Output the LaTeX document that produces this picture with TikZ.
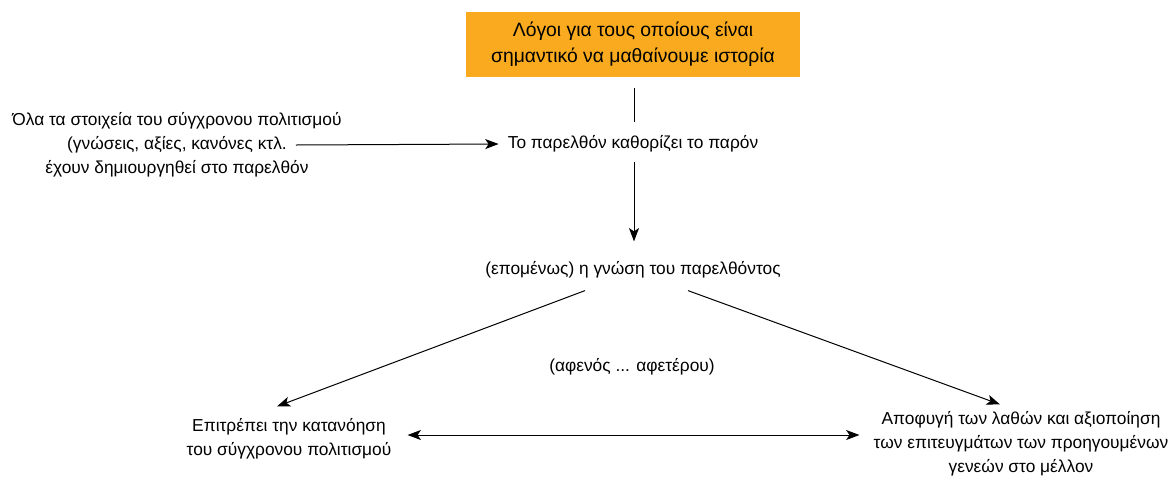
\documentclass[tikz,border=0pt]{standalone}
\usepackage{fontspec}
\setmainfont{Liberation Sans}
\usepackage{tikz}
\usetikzlibrary{arrows.meta,calc}

\definecolor{reasonOrange}{HTML}{FAAA1E}

\begin{document}
\begin{tikzpicture}[
  x=0.75pt, y=-0.75pt,
  reasonbox/.style={fill=reasonOrange, minimum width=250.5pt, minimum height=48.75pt, inner sep=0pt,
    font=\fontsize{14.5}{19.5}\selectfont},
  plain/.style={inner sep=0pt},
  link/.style={line width=0.75pt},
  flow/.style={-{Stealth[length=10pt,width=7.5pt,inset=2.5pt]}, line width=0.75pt},
  both/.style={{Stealth[length=10pt,width=7.5pt,inset=2.5pt]}-{Stealth[length=10pt,width=7.5pt,inset=2.5pt]}, line width=0.75pt},
  every node/.style={align=center, font=\fontsize{13}{18}\selectfont}]

\useasboundingbox (0,0) rectangle (1171,476);

% Place the text nodes at their positions
\node[reasonbox] (reasons) at (633,44.5) {Λόγοι για τους οποίους είναι\\ σημαντικό να μαθαίνουμε ιστορία};
\node[plain] (elements) at (177,145) {Όλα τα στοιχεία του σύγχρονου πολιτισμού\\ (γνώσεις, αξίες, κανόνες κτλ.\\ έχουν δημιουργηθεί στο παρελθόν};
\node[plain] (past) at (633,144) {Το παρελθόν καθορίζει το παρόν};
\node[plain] (knowledge) at (633,270) {(επομένως) η γνώση του παρελθόντος};
\node[plain] (onOneHand) at (632,367) {(αφενός ... αφετέρου)};
\node[plain] (understanding) at (289,439) {Επιτρέπει την κατανόηση\\ του σύγχρονου πολιτισμού};
\node[plain] (avoidance) at (1021,444) {Αποφυγή των λαθών και αξιοποίηση\\ των επιτευγμάτων των προηγουμένων\\ γενεών στο μέλλον};

% Draw the connectors between the nodes
\draw [link] ($(reasons.south)+(1,11)$) -- ($(past.north)+(1,-13)$);
\draw [flow] ($(elements.east)+(-46,0)$) -- ($(past.west)+(-9,0)$);
\draw [flow] ($(past.south)+(1,9)$) -- ($(knowledge.north)+(1,-20)$);
\draw [flow] ($(knowledge.south)+(-48,12)$) -- ($(understanding.north)+(-12,-12)$);
\draw [flow] ($(knowledge.south)+(55,12)$) -- ($(avoidance.north)+(-21,-7)$);
\draw [both] ($(understanding.east)+(16,-4)$) -- ($(avoidance.west)+(-14,-9)$);

\end{tikzpicture}
\end{document}
